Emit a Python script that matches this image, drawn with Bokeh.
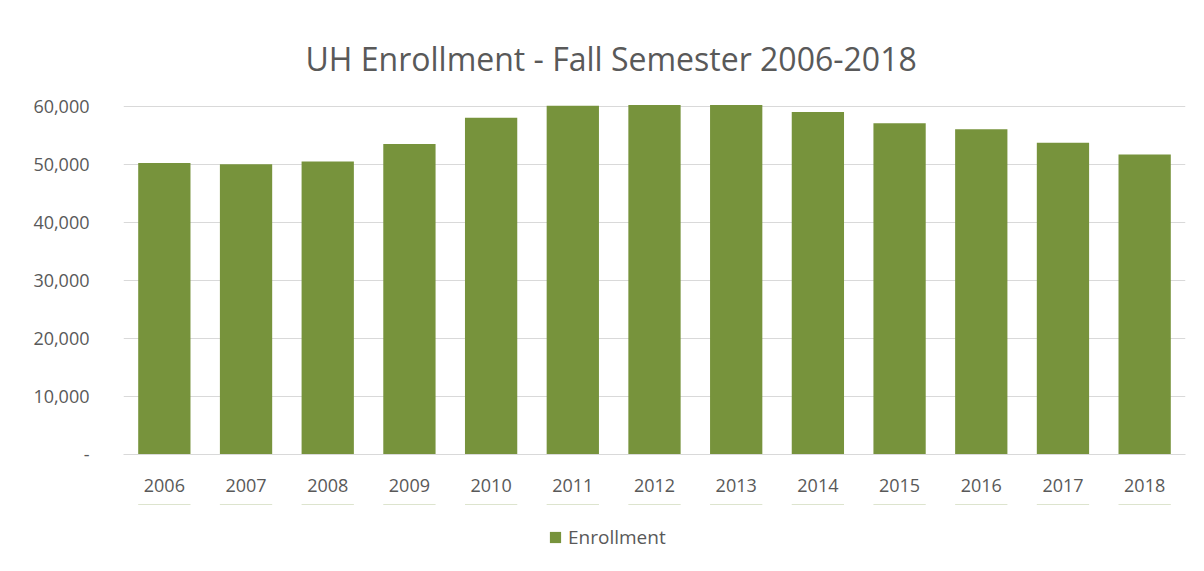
from bokeh.plotting import figure
from bokeh.layouts import column
from bokeh.models import ColumnDataSource, FactorRange, Range1d, Legend, LegendItem, FixedTicker
from bokeh.embed import file_html
from bokeh.resources import INLINE

years = ["2006", "2007", "2008", "2009", "2010", "2011", "2012",
         "2013", "2014", "2015", "2016", "2017", "2018"]
enrollment = [50200, 50000, 50500, 53500, 58000, 60100, 60200,
              60200, 59000, 57050, 56050, 53700, 51700]
y_ticks = [0, 10000, 20000, 30000, 40000, 50000, 60000]
y_tick_labels = ["-", "10,000", "20,000", "30,000", "40,000", "50,000", "60,000"]
title_text = "UH Enrollment - Fall Semester 2006-2018"
series_name = "Enrollment"

FONT = "Open Sans"
TEXT = "#595959"
BAR = "#77933C"
GRID = "#D9D9D9"

src = ColumnDataSource(dict(x=years, y=enrollment))

p = figure(frame_width=1062, frame_height=350, x_range=FactorRange(*years),
           y_range=Range1d(0, 60300), output_backend="svg",
           toolbar_location=None, title=title_text,
           min_border_left=123, min_border_right=11,
           min_border_top=104, min_border_bottom=50,
           border_fill_color="white", outline_line_color=None)

p.title.align = "left"
p.title.text_font = FONT
p.title.text_font_size = "32px"
p.title.text_font_style = "normal"
p.title.text_color = TEXT
p.title.offset = 182
p.title.standoff = 50

r = p.vbar(x="x", top="y", width=0.64, source=src, fill_color=BAR,
           line_color=None)

p.xgrid.grid_line_color = None
p.ygrid.grid_line_color = GRID
p.ygrid.ticker = FixedTicker(ticks=y_ticks)

p.yaxis.ticker = FixedTicker(ticks=y_ticks)
p.yaxis.major_label_overrides = {t: l for t, l in zip(y_ticks, y_tick_labels)}
p.yaxis.axis_line_color = None
p.yaxis.major_tick_line_color = None
p.yaxis.minor_tick_line_color = None
p.yaxis.major_label_text_font = FONT
p.yaxis.major_label_text_font_size = "18px"
p.yaxis.major_label_text_color = TEXT
p.yaxis.major_label_standoff = 28

p.xaxis.axis_line_color = GRID
p.xaxis.major_tick_line_color = None
p.xaxis.minor_tick_line_color = None
p.xaxis.major_label_text_font = FONT
p.xaxis.major_label_text_font_size = "18px"
p.xaxis.major_label_text_color = TEXT
p.xaxis.major_label_standoff = 18

# Legend strip below the chart (real Bokeh legend, same bar series)
lg = figure(width=1196, height=60, x_range=FactorRange(*years),
            y_range=Range1d(-2, -1),
            output_backend="svg", toolbar_location=None,
            min_border_left=0, min_border_right=0, min_border_top=0,
            min_border_bottom=0, outline_line_color=None,
            border_fill_color="white")
lg.axis.visible = False
lg.grid.visible = False
r2 = lg.vbar(x="x", top="y", width=0.64, source=src, fill_color=BAR,
             line_color=None)

legend = Legend(items=[LegendItem(label=series_name, renderers=[r2])],
                orientation="horizontal", location=(425, 14),
                label_text_font=FONT, label_text_font_size="19px",
                label_text_color=TEXT, border_line_color=None,
                background_fill_alpha=0, glyph_width=14, glyph_height=14,
                label_standoff=6, margin=0, padding=4)
lg.add_layout(legend, "center")

layout = column(p, lg, spacing=0)
open("out.html", "w").write(file_html(layout, INLINE))
